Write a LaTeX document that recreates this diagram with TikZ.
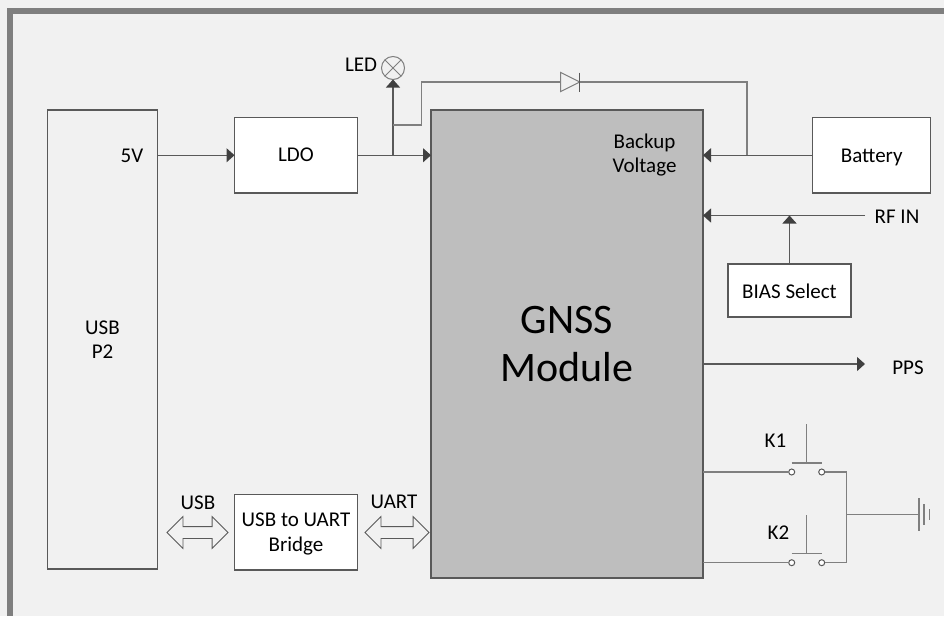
\documentclass[tikz,border=0pt]{standalone}
\usepackage{fontspec}
\setmainfont{Carlito}
\usetikzlibrary{arrows.meta, positioning, shapes.geometric, shapes.arrows, calc}
\definecolor{pageBg}{HTML}{F1F1F1}
\definecolor{frameGray}{HTML}{7F7F7F}
\definecolor{moduleGray}{HTML}{BEBEBE}
\definecolor{lineGray}{HTML}{595959}
\definecolor{tipGray}{HTML}{404040}

\begin{document}
\begin{tikzpicture}[
  x=1pt, y=-1pt,
  box/.style={draw=lineGray, line width=1.2pt, fill=white, inner sep=0pt, outer sep=0pt, align=center, font=\fontsize{21}{25.5}\selectfont},
  label/.style={inner sep=0pt, align=center, font=\fontsize{21}{24}\selectfont},
  wire/.style={draw=lineGray, line width=1.2pt},
  lightwire/.style={draw=frameGray, line width=1.3pt},
  arrow/.style={wire, -{Triangle[length=8pt, width=14pt, color=tipGray]}},
  terminal/.style={circle, draw=lineGray, line width=1pt, fill=white, minimum size=6pt, inner sep=0pt, outer sep=0pt},
  bus/.style={double arrow, draw=lineGray, line width=0.8pt, fill=pageBg, inner sep=0pt, outer sep=0pt, text height=11pt, text depth=0pt, minimum width=31pt, double arrow head extend=10pt}
]
\useasboundingbox (0,0) rectangle (944,616);
\fill[pageBg] (0,0) rectangle (944,616);
\draw[frameGray, line width=6pt] (944,11) -- (10,11) -- (10,616);

% Blocks
\node[box, fill=pageBg, minimum width=110pt, minimum height=459pt] (usb) at (102.5, 339.5) {USB\\[-1.5pt]P2};
\node[box, minimum width=123pt, minimum height=75.5pt] (ldo) at (296, 155.25) {LDO};
\node[box, minimum width=123pt, minimum height=75.5pt, text depth=0pt] (bridge) at (296, 532.25) {USB to UART\\Bridge};
\node[box, fill=moduleGray, minimum width=272pt, minimum height=468pt, font=\fontsize{42}{48}\selectfont] (gnss) at (567, 344) {GNSS\\Module};
\node[box, minimum width=118pt, minimum height=75.5pt, text height=17.5pt, text depth=4pt] (battery) at (871.75, 155.25) {Battery};
\node[box, minimum width=123pt, minimum height=53pt, text height=16.5pt, text depth=0pt] (bias) at (789.5, 290.5) {BIAS Select};

% Labels
\node[label] (fivev) at (132, 155.5) {5V};
\node[label] (ledlabel) at (361, 65) {LED};
\node[label] (backup) at (644.5, 155) {Backup\\Voltage};
\node[label] (rfin) at (897, 217) {RF IN};
\node[label] (pps) at (908, 368) {PPS};
\node[label] (usblabel) at (198, 503) {USB};
\node[label] (uartlabel) at (394, 502) {UART};
\node[label] (k1label) at (775.5, 441) {K1};
\node[label] (k2label) at (778.5, 532.5) {K2};

% Power path
\draw[arrow] (usb.east |- ldo.west) -- (ldo.west);
\draw[arrow] (ldo.east) -- (ldo.east -| gnss.west);
\node[circle, draw=frameGray, line width=1pt, fill=pageBg, minimum size=23pt, inner sep=0pt, outer sep=0pt] (lamp) at (393, 68) {};
\draw[lightwire, line width=1pt] (lamp.45) -- (lamp.225) (lamp.135) -- (lamp.315);
\coordinate (ledtap) at (393, 155);
\coordinate (branch) at (393, 125);
\draw[arrow] (ledtap) -- (lamp.south);

% Backup diode
\node[isosceles triangle, isosceles triangle stretches, draw=frameGray, line width=1pt, fill=pageBg, minimum width=19pt, minimum height=19pt, inner sep=0pt, outer sep=0pt] (diode) at (566.5, 82) {};
\coordinate (battap) at (747, 155);
\draw[lightwire] (branch) -- (421.5, 125) -- (421.5, 82) -- (diode.west |- 421.5, 82);
\draw[lightwire] (diode.apex) -- (battap |- diode.apex) -- (battap);
\draw[wire] ($(diode.apex)+(0,-9.5)$) -- ($(diode.apex)+(0,9.5)$);
\draw[arrow] (battery.west) -- (battery.west -| gnss.east);

% RF input
\coordinate (rfstart) at (865, 215.5);
\draw[arrow] (rfstart) -- (rfstart -| gnss.east);
\draw[arrow] (bias.north) -- (bias.north |- rfstart);

% PPS output
\coordinate (ppsstart) at (703, 364);
\draw[arrow] (ppsstart) -- (865, 364);

% Data links
\node[bus, minimum height=61pt] (usblink) at (197.5, 532.5) {};
\node[bus, minimum height=64pt] (uartlink) at (397, 532.5) {};

% Keys
\node[terminal] (k1a) at (791.7, 472) {};
\node[terminal] (k1b) at (821.7, 472) {};
\node[terminal] (k2a) at (791.7, 562.7) {};
\node[terminal] (k2b) at (821.7, 562.7) {};
\coordinate (k1out) at (846.5, 472);
\coordinate (k2out) at (846.5, 562.7);
\coordinate (gndtap) at (846.5, 514.7);
\coordinate (gnd) at (919, 514.7);
\draw[lightwire] (k1a -| gnss.east) -- (k1a);
\draw[lightwire] (k2a -| gnss.east) -- (k2a);
\draw[lightwire] (k1b) -- (k1out) -- (k2out) -- (k2b);
\draw[lightwire] (gndtap) -- (gnd);
\draw[lightwire] (791.7, 463) -- (821.7, 463) (806.7, 463) -- (806.7, 424);
\draw[lightwire] (791.7, 553.7) -- (821.7, 553.7) (806.7, 553.7) -- (806.7, 515);

% Ground
\draw[lightwire] ($(gnd)+(0,-16.5)$) -- ($(gnd)+(0,16.5)$);
\draw[lightwire] ($(gnd)+(5,-10.5)$) -- ($(gnd)+(5,10.5)$);
\draw[lightwire] ($(gnd)+(10.3,-5.5)$) -- ($(gnd)+(10.3,5.5)$);
\end{tikzpicture}
\end{document}
